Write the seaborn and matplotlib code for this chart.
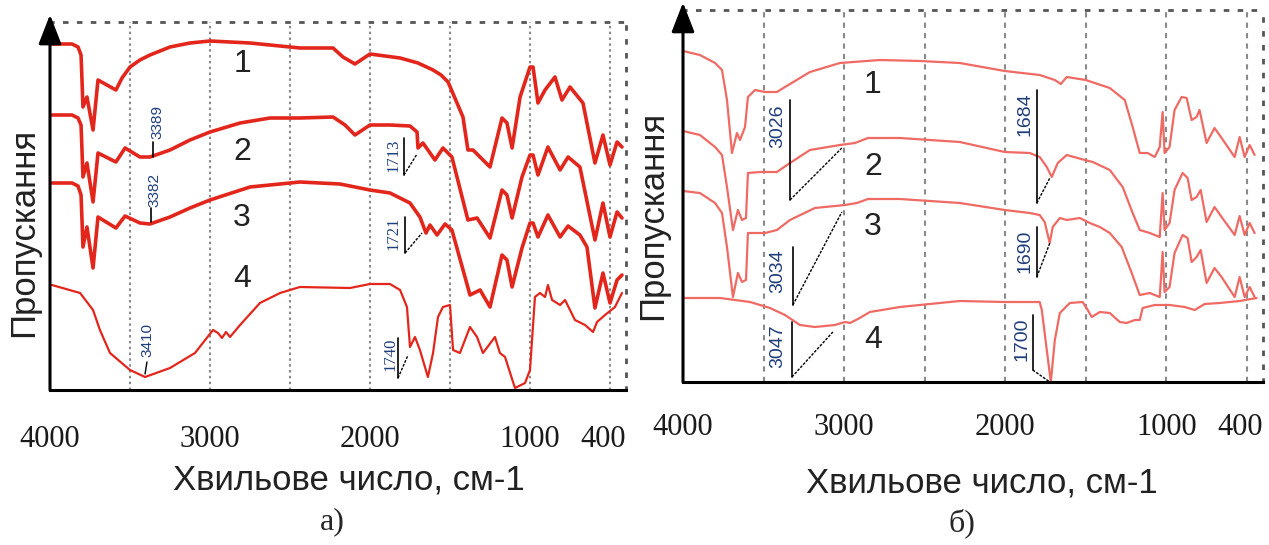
import numpy as np
import pandas as pd
import seaborn as sns
import matplotlib.pyplot as plt

# -----------------------------
# DATA
# -----------------------------
# panel a) - transmittance in arbitrary units, curves offset as in the original
A1_WN = [3988, 3862, 3825, 3806, 3800, 3794, 3769, 3731, 3700, 3588, 3550, 3500, 3438, 3375, 3250, 3125,
         3000, 2750, 2500, 2438, 2231, 2169, 2094, 2000, 1812, 1700, 1606, 1556, 1512, 1419, 1388, 1356,
         1250, 1175, 1144, 1112, 1062, 1000, 981, 950, 906, 844, 800, 750, 669, 594, 544, 500, 456, 425]
A1_T = [346, 346, 343, 335, 310, 283, 293, 260, 310, 300, 312, 323, 330, 335, 343, 347,
        349, 347, 343, 342, 342, 333, 326, 336, 332, 327, 320, 315, 308, 273, 240, 240,
        223, 272, 267, 242, 293, 323, 323, 287, 300, 313, 290, 303, 287, 227, 255, 225, 248, 243]

A2_WN = [3988, 3862, 3825, 3806, 3800, 3794, 3769, 3731, 3700, 3588, 3531, 3438, 3375, 3250, 3125, 3000,
         2812, 2625, 2438, 2231, 2156, 2094, 2000, 1875, 1750, 1706, 1700, 1669, 1594, 1544, 1488, 1388,
         1331, 1250, 1175, 1144, 1112, 1050, 1000, 981, 950, 888, 812, 762, 688, 594, 544, 500, 456, 425]
A2_T = [275, 275, 272, 265, 240, 213, 227, 188, 237, 228, 242, 233, 233, 240, 250, 258,
        267, 272, 272, 273, 265, 255, 265, 265, 264, 258, 242, 247, 230, 242, 233, 170,
        172, 152, 200, 195, 172, 213, 235, 235, 215, 243, 220, 233, 223, 150, 187, 153, 178, 172]

A3_WN = [3988, 3862, 3825, 3806, 3800, 3794, 3769, 3731, 3700, 3588, 3531, 3438, 3375, 3250, 3125, 3000,
         2750, 2438, 2188, 2000, 1875, 1750, 1688, 1650, 1625, 1581, 1531, 1488, 1375, 1312, 1250, 1175,
         1144, 1112, 1050, 1000, 981, 950, 888, 812, 762, 688, 644, 594, 544, 500, 456, 425]
A3_T = [207, 207, 204, 195, 170, 143, 163, 122, 173, 162, 174, 167, 166, 173, 182, 190,
        203, 208, 206, 200, 197, 187, 173, 157, 165, 155, 166, 160, 95, 100, 83, 135,
        130, 103, 142, 167, 167, 153, 175, 153, 164, 155, 143, 82, 117, 87, 110, 115]

A4_WN = [3988, 3812, 3731, 3688, 3625, 3500, 3406, 3250, 3094, 2981, 2950, 2925, 2900, 2875, 2812, 2688,
         2562, 2438, 2125, 2000, 1875, 1812, 1769, 1750, 1719, 1688, 1638, 1606, 1575, 1544, 1500, 1481,
         1438, 1375, 1331, 1294, 1219, 1188, 1156, 1094, 1031, 1000, 969, 938, 906, 888, 862, 812,
         781, 719, 656, 606, 581, 531, 469, 425]
A4_T = [105, 97, 80, 60, 37, 20, 13, 22, 37, 60, 57, 52, 58, 53, 65, 87,
        97, 103, 102, 106, 106, 100, 83, 43, 53, 40, 13, 37, 73, 83, 85, 40,
        37, 63, 53, 37, 53, 37, 33, 2, 7, 20, 93, 97, 93, 105, 90, 85,
        90, 70, 65, 58, 68, 75, 83, 97]

# panel б)
B1_WN = [4000, 3895, 3801, 3758, 3727, 3696, 3665, 3646, 3615, 3597, 3553, 3491, 3417, 3367, 3212, 3026,
         2778, 2530, 2282, 2003, 1786, 1692, 1655, 1618, 1500, 1351, 1258, 1209, 1165, 1116, 1072, 1041,
         1023, 1011, 980, 949, 905, 874, 843, 812, 794, 750, 701, 657, 576, 545, 514, 483, 452]
B1_T = [331, 327, 319, 312, 282, 229, 249, 242, 255, 285, 292, 290, 290, 295, 310, 319,
        322, 321, 319, 311, 307, 302, 298, 305, 302, 294, 282, 255, 229, 229, 225, 235,
        270, 229, 235, 272, 285, 284, 262, 265, 272, 239, 254, 244, 225, 245, 225, 237, 227]

B2_WN = [4000, 3895, 3801, 3758, 3727, 3690, 3659, 3634, 3609, 3597, 3522, 3417, 3336, 3212, 3026, 2933,
         2852, 2654, 2282, 2003, 1848, 1786, 1742, 1711, 1674, 1618, 1506, 1457, 1351, 1271, 1209, 1165,
         1103, 1041, 1023, 1011, 980, 949, 899, 868, 843, 812, 787, 750, 701, 657, 576, 545, 514, 483, 452]
B2_T = [251, 247, 235, 227, 195, 152, 172, 162, 164, 209, 210, 210, 219, 232, 237, 239,
        244, 244, 240, 230, 229, 225, 215, 205, 219, 227, 222, 220, 212, 195, 169, 152,
        149, 145, 189, 152, 159, 192, 209, 204, 182, 185, 192, 160, 175, 165, 147, 166, 147, 159, 149]

B3_WN = [4000, 3895, 3801, 3758, 3727, 3690, 3659, 3634, 3609, 3597, 3491, 3417, 3336, 3181, 2995, 2921,
         2852, 2654, 2282, 2003, 1848, 1786, 1755, 1724, 1705, 1661, 1618, 1537, 1475, 1413, 1351, 1277,
         1215, 1165, 1103, 1041, 1023, 1011, 980, 949, 899, 868, 843, 812, 787, 750, 701, 657,
         576, 545, 514, 483, 452]
B3_T = [191, 189, 179, 169, 135, 85, 109, 100, 102, 149, 149, 152, 162, 174, 177, 179,
        183, 183, 179, 172, 169, 167, 160, 139, 155, 164, 162, 164, 159, 155, 149, 135,
        109, 87, 89, 85, 130, 90, 95, 129, 147, 144, 120, 125, 132, 99, 114, 105,
        85, 105, 85, 95, 85]

B4_WN = [4000, 3770, 3584, 3460, 3367, 3274, 3181, 3057, 2995, 2964, 2914, 2840, 2654, 2468, 2282, 2003,
         1786, 1773, 1742, 1717, 1692, 1661, 1599, 1519, 1488, 1463, 1413, 1351, 1289, 1246, 1196, 1165,
         1147, 1072, 980, 886, 824, 762, 669, 545, 440]
B4_T = [84, 84, 80, 74, 67, 57, 55, 57, 60, 59, 63, 70, 75, 78, 81, 80,
        80, 72, 32, 0, 42, 69, 79, 80, 72, 65, 70, 69, 60, 59, 62, 62,
        74, 77, 77, 75, 72, 78, 79, 81, 84]

TICKS = [4000, 3000, 2000, 1000, 400]
TICK_LABELS = ["4000", "3000", "2000", "1000", "400"]
GRID_WN = [3500, 3000, 2500, 2000, 1500, 1000, 500]
CURVE_NAMES = ["1", "2", "3", "4"]
A_PEAKS = ["3389", "3382", "3410", "1713", "1721", "1740"]
B_PEAKS = ["3026", "3034", "3047", "1684", "1690", "1700"]

XLABEL = "Хвильове число, см-1"
YLABEL = "Пропускання"

# -----------------------------
# STYLE
# -----------------------------
sns.set_style("white")
plt.rcParams["font.family"] = ["Liberation Sans", "DejaVu Sans"]

SANS = ["Liberation Sans", "DejaVu Sans"]
SERIF = ["Liberation Serif", "DejaVu Serif"]
RED_A = "#e3261c"
RED_B = "#f06a64"
PEAK_COLOR = "#1f3d7a"

fig = plt.figure(figsize=(12.69, 5.45), dpi=100)
W, H = 1269, 545

ax_a = fig.add_axes([50 / W, (H - 390) / H, 576 / W, 368 / H])
ax_b = fig.add_axes([683 / W, (H - 382) / H, 580 / W, 372 / H])


def frame(ax, grid_ls, ymax, pad):
    ax.set_xlim(4000, 400)
    ax.set_ylim(0, ymax)
    for w in GRID_WN:
        ax.axvline(w, color="#8a8a8a", lw=1.5, ls=grid_ls, zorder=0)
    ax.spines["left"].set_visible(False)
    ax.spines["bottom"].set_color("black")
    ax.spines["bottom"].set_linewidth(2.2)
    for s in ("top", "right"):
        ax.spines[s].set_color("#555555")
        ax.spines[s].set_linewidth(2)
        ax.spines[s].set_linestyle((0, (1, 4)))
    ax.annotate("", xy=(0, 1.02), xytext=(0, 0), xycoords="axes fraction",
                arrowprops=dict(arrowstyle="-|>,head_length=0.9,head_width=0.35",
                                color="black", lw=2.2, mutation_scale=20, shrinkA=0, shrinkB=0))
    ax.set_yticks([])
    ax.set_xticks(TICKS)
    ax.set_xticklabels(TICK_LABELS, fontfamily=SERIF, fontsize=22, color="#1a1a1a")
    ax.get_xticklabels()[-1].set_ha("right")
    ax.tick_params(axis="x", length=0, pad=pad)
    ax.set_xlabel(XLABEL, fontsize=25, color="#222222")
    ax.set_ylabel(YLABEL, fontsize=25, color="#222222", va="center")


def curve(ax, wn, t, color, lw):
    df = pd.DataFrame({"wavenumber": wn, "T": t})
    sns.lineplot(data=df, x="wavenumber", y="T", ax=ax, color=color, lw=lw,
                 sort=False, estimator=None, clip_on=False, solid_joinstyle="round")


def peak(ax, label, tx, ty, lx, y0, y1, tip, font, size):
    ax.text(tx, ty, label, rotation=90, ha="center", va="center", color=PEAK_COLOR,
            fontfamily=font, fontsize=size)
    ax.plot([lx, lx], [y0, y1], color="black", lw=1.2)
    ax.plot([lx, tip[0]], [y1, tip[1]], color="black", lw=1.0, ls=(0, (2, 1)))


# -----------------------------
# PANEL a)
# -----------------------------
frame(ax_a, (0, (1.2, 1.6)), 368, 25)
curve(ax_a, A1_WN, A1_T, RED_A, 2.6)
curve(ax_a, A2_WN, A2_T, RED_A, 2.6)
curve(ax_a, A3_WN, A3_T, RED_A, 2.6)
curve(ax_a, A4_WN, A4_T, RED_A, 1.6)

for name, y in zip(CURVE_NAMES, [326, 238, 172, 111]):
    ax_a.text(2800, y, name, fontsize=23, ha="center", va="center", color="#222222")

peak(ax_a, A_PEAKS[0], 3330, 268, 3356, 248, 233, (3356, 233), SANS, 11)
peak(ax_a, A_PEAKS[1], 3348, 200, 3369, 182, 168, (3369, 168), SANS, 11)
ax_a.text(3388, 50, A_PEAKS[2], rotation=90, ha="center", va="center", color=PEAK_COLOR,
          fontfamily=SANS, fontsize=11)
ax_a.plot([3394, 3406], [28, 16], color="black", lw=1.0)
peak(ax_a, A_PEAKS[3], 1856, 235, 1788, 252, 215, (1706, 236), SERIF, 12)
peak(ax_a, A_PEAKS[4], 1856, 157, 1781, 173, 137, (1675, 157), SERIF, 12)
peak(ax_a, A_PEAKS[5], 1869, 36, 1825, 52, 12, (1762, 35), SERIF, 12)

ax_a.xaxis.set_label_coords(0.519, -0.201)
ax_a.yaxis.set_label_coords(-0.045, 0.429)

# -----------------------------
# PANEL б)
# -----------------------------
frame(ax_b, (0, (2.5, 2.5)), 372, 22)
for wn, t in [(B1_WN, B1_T), (B2_WN, B2_T), (B3_WN, B3_T), (B4_WN, B4_T)]:
    curve(ax_b, wn, t, RED_B, 1.6)

for name, y in zip(CURVE_NAMES, [297, 215, 155, 42]):
    ax_b.text(2821, y, name, fontsize=23, ha="center", va="center", color="#222222")

peak(ax_b, B_PEAKS[0], 3411, 256, 3336, 282, 182, (3014, 234), SANS, 14)
peak(ax_b, B_PEAKS[1], 3411, 111, 3318, 135, 77, (3014, 170), SANS, 14)
peak(ax_b, B_PEAKS[2], 3411, 36, 3324, 60, 5, (3070, 50), SANS, 14)
peak(ax_b, B_PEAKS[3], 1879, 268, 1804, 292, 179, (1723, 204), SANS, 14)
peak(ax_b, B_PEAKS[4], 1879, 131, 1804, 155, 105, (1723, 139), SANS, 14)
peak(ax_b, B_PEAKS[5], 1897, 43, 1829, 67, 12, (1723, 0), SANS, 14)

ax_b.xaxis.set_label_coords(0.516, -0.228)
ax_b.yaxis.set_label_coords(-0.053, 0.449)

fig.text(332 / W, 1 - 522 / H, "а)", fontfamily=SERIF, fontsize=23, ha="center", va="center")
fig.text(962 / W, 1 - 523 / H, "б)", fontfamily=SERIF, fontsize=23, ha="center", va="center")

fig.savefig("out.png", dpi=100)
